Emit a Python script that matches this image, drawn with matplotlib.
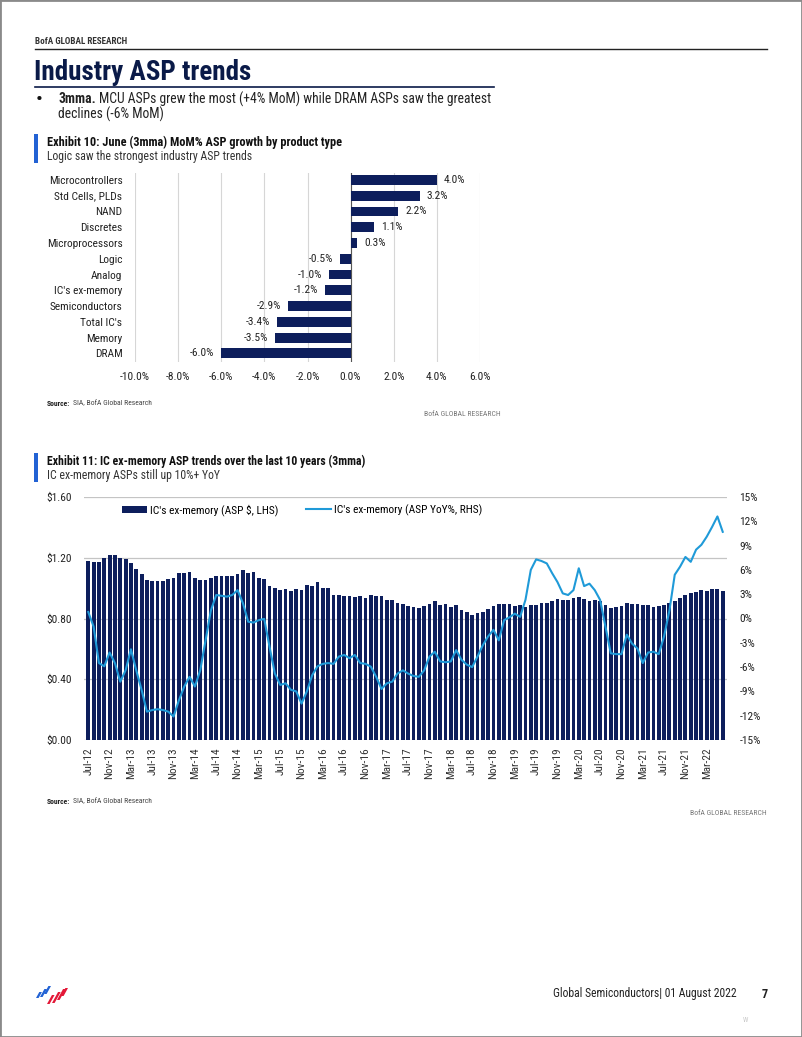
import numpy as np
import matplotlib
matplotlib.use("Agg")
import matplotlib.pyplot as plt
from matplotlib import font_manager as fm
from matplotlib.lines import Line2D
from matplotlib.patches import Rectangle, Polygon


# --- data -------------------------------------------------------------
categories = ['Microcontrollers', 'Std Cells, PLDs', 'NAND', 'Discretes',
              'Microprocessors', 'Logic', 'Analog', "IC's ex-memory",
              'Semiconductors', "Total IC's", 'Memory', 'DRAM']
mom_growth = [4.0, 3.2, 2.2, 1.1, 0.3, -0.5, -1.0, -1.2, -2.9, -3.4, -3.5, -6.0]

# monthly Jul-12 .. Jun-22, IC ex-memory ASP ($, 3mma)
asp = [1.18, 1.17, 1.17, 1.20, 1.22, 1.22, 1.20, 1.19, 1.165, 1.125, 1.09, 1.055,
       1.045, 1.045, 1.045, 1.06, 1.065, 1.10, 1.10, 1.105, 1.065, 1.055, 1.055, 1.065,
       1.08, 1.08, 1.08, 1.08, 1.09, 1.12, 1.10,
       1.105, 1.065, 1.06, 1.015, 1.00, 0.99, 0.995, 0.98, 0.995, 0.99, 1.02, 1.015,
       1.04, 1.00, 1.00, 0.955, 0.955, 0.945, 0.95, 0.94, 0.945, 0.935, 0.955, 0.945,
       0.95, 0.925, 0.925, 0.90,
       0.897, 0.883, 0.879, 0.872, 0.883, 0.897, 0.916, 0.89, 0.897, 0.879, 0.89, 0.853,
       0.846, 0.824, 0.839, 0.846, 0.864, 0.883, 0.897, 0.897, 0.897, 0.883, 0.89, 0.879,
       0.89, 0.89, 0.905, 0.905, 0.916, 0.929,
       0.923, 0.923, 0.934, 0.940, 0.929, 0.918, 0.923, 0.912, 0.890, 0.872, 0.879, 0.885,
       0.905, 0.897, 0.897, 0.890, 0.890, 0.879, 0.885, 0.890, 0.901, 0.918, 0.934, 0.956,
       0.971, 0.973, 0.989, 0.984, 0.993, 0.993, 0.984]

# same months, ASP YoY %
asp_yoy = [0.8, -1.0, -5.5, -5.9, -4.2, -5.5, -7.8, -6.4, -3.8, -6.4, -8.8, -11.5,
           -11.3, -11.2, -11.3, -11.5, -12.1, -10.1, -8.4, -7.2, -8.4, -6.4, -2.7, 1.0,
           2.9, 2.8, 2.7, 2.9, 3.5, 1.9, -0.4,
           -0.5, -0.2, -0.05, -3.5, -6.8, -8.2, -8.0, -8.8, -9.0, -10.5, -9.0, -7.0,
           -5.9, -5.6, -5.5, -5.6, -4.7, -4.5, -4.9, -4.5, -5.5, -5.6, -5.95, -7.2,
           -8.7, -8.0, -7.8, -6.8,
           -6.4, -6.8, -7.1, -7.2, -6.4, -4.7, -4.1, -5.3, -5.4, -5.3, -3.9, -5.1,
           -5.7, -6.0, -4.7, -3.3, -2.2, -1.4, -2.7, -0.2, 0.15, 0.6, 0.2, 2.3,
           6.0, 7.3, 7.1, 6.8, 5.6, 4.5,
           3.1, 2.9, 3.5, 6.2, 4.0, 4.3, 3.5, 2.3, -1.0, -4.3, -4.4, -4.4,
           -2.0, -3.1, -3.7, -5.5, -4.2, -4.1, -4.4, -2.2, 1.0, 5.4, 6.4, 7.6,
           7.0, 8.5, 9.1, 10.1, 11.3, 12.6, 10.7]

month_labels = ['Jul-12', 'Nov-12', 'Mar-13', 'Jul-13', 'Nov-13', 'Mar-14', 'Jul-14',
                'Nov-14', 'Mar-15', 'Jul-15', 'Nov-15', 'Mar-16', 'Jul-16', 'Nov-16',
                'Mar-17', 'Jul-17', 'Nov-17', 'Mar-18', 'Jul-18', 'Nov-18', 'Mar-19',
                'Jul-19', 'Nov-19', 'Mar-20', 'Jul-20', 'Nov-20', 'Mar-21', 'Jul-21',
                'Nov-21', 'Mar-22']
lhs_ticks = [0.0, 0.4, 0.8, 1.2, 1.6]
rhs_ticks = [-15, -12, -9, -6, -3, 0, 3, 6, 9, 12, 15]
mom_ticks = [-10, -8, -6, -4, -2, 0, 2, 4, 6]

# --- style ------------------------------------------------------------
NAVY = '#0d1e5c'
TITLE_NAVY = '#0a1a48'
LBLUE = '#1f9ad8'
ACCENT = '#2262d4'
RED = '#e31837'
TXT = '#222222'

avail = {f.name for f in fm.fontManager.ttflist}
FONT = next((n for n in ['Roboto Condensed', 'Liberation Sans Narrow',
                         'DejaVu Sans Condensed', 'Roboto', 'Liberation Sans']
             if n in avail), 'DejaVu Sans')
plt.rcParams['font.family'] = [FONT, 'DejaVu Sans']

W, H = 802, 1037
fig = plt.figure(figsize=(W / 100, H / 100), dpi=100)


def X(px):
    return px / W


def Y(py):
    return 1 - py / H


def ftext(x, y, s, **kw):
    kw.setdefault('va', 'center')
    kw.setdefault('color', TXT)
    return fig.text(X(x), Y(y), s, **kw)


def after(t, pad=0):
    # x pixel right after a drawn text
    r = fig.canvas.get_renderer()
    return t.get_window_extent(renderer=r).x1 + pad


# page frame + header
fig.add_artist(Rectangle((0, 0), 1, 1, transform=fig.transFigure, fill=False,
                         edgecolor='#8a8a8a', lw=2))
ftext(35, 41, 'BofA GLOBAL RESEARCH', fontsize=6.6, weight='bold', color='#333')
fig.add_artist(Line2D([X(35), X(767)], [Y(49)] * 2, color='#222', lw=1))
ftext(34, 72, 'Industry ASP trends', fontsize=19.5, weight='bold', color=TITLE_NAVY)
fig.add_artist(Line2D([X(35), X(494)], [Y(87)] * 2, color=TITLE_NAVY, lw=1.2))

ftext(36, 99, '\u2022', fontsize=15, color='#111')
t = ftext(58, 99, '3mma.', fontsize=9.8, weight='bold')
ftext(after(t, 3), 99, 'MCU ASPs grew the most (+4% MoM) while DRAM ASPs saw the greatest',
      fontsize=9.8)
ftext(58, 114, 'declines (-6% MoM)', fontsize=9.8)

# --- exhibit 10 -------------------------------------------------------
fig.add_artist(Rectangle((X(34), Y(163)), 4 / W, 29 / H, transform=fig.transFigure,
                         color=ACCENT, lw=0))
ftext(47, 142, 'Exhibit 10: June (3mma) MoM% ASP growth by product type',
      fontsize=8.8, weight='bold', color='#111')
ftext(47, 156, 'Logic saw the strongest industry ASP trends', fontsize=8.5, color='#333')

ax1 = fig.add_axes([X(135), Y(362), (480 - 135) / W, (362 - 172.7) / H])
pos = np.arange(len(categories))
ax1.barh(pos, mom_growth, height=0.63, color=NAVY, zorder=3)
for p, v in zip(pos, mom_growth):
    ax1.annotate(f'{v:.1f}%', (v, p), xytext=(5 if v > 0 else -5, 0),
                 textcoords='offset points', ha='left' if v > 0 else 'right',
                 va='center', fontsize=8.2, color=TXT)
ax1.set_xlim(-10, 6)
ax1.set_ylim(11.55, -0.46)
ax1.set_xticks(mom_ticks)
ax1.set_xticklabels([f'{v:.1f}%' for v in mom_ticks])
ax1.set_yticks(pos)
ax1.set_yticklabels(categories)
ax1.grid(axis='x', color='#d6d6d6', lw=0.8)
ax1.set_axisbelow(True)
ax1.axvline(0, color='#555', lw=0.8, zorder=2)
for s in ax1.spines.values():
    s.set_visible(False)
ax1.tick_params(axis='x', length=0, pad=7, labelsize=8.2, labelcolor=TXT)
ax1.tick_params(axis='y', length=0, pad=9, labelsize=8.2, labelcolor=TXT)

t = ftext(47, 403, 'Source:', fontsize=5.5, weight='bold')
ftext(after(t, 3), 403, 'SIA, BofA Global Research', fontsize=5.5, color='#444')
ftext(501, 414, 'BofA GLOBAL RESEARCH', fontsize=5.5, ha='right', color='#777')

# --- exhibit 11 -------------------------------------------------------
fig.add_artist(Rectangle((X(34), Y(482)), 4 / W, 29 / H, transform=fig.transFigure,
                         color=ACCENT, lw=0))
ftext(47, 461, 'Exhibit 11: IC ex-memory ASP trends over the last 10 years (3mma)',
      fontsize=8.5, weight='bold', color='#111')
ftext(47, 475, 'IC ex-memory ASPs still up 10%+ YoY', fontsize=8.5, color='#333')

ax2 = fig.add_axes([X(84), Y(740), (727 - 84) / W, (740 - 497) / H])
idx = np.arange(len(asp))
bars = ax2.bar(idx, asp, width=0.72, color=NAVY, zorder=2,
               label="IC's ex-memory (ASP $, LHS)")
ax2.set_xlim(-0.8, len(asp) - 0.2)
ax2.set_ylim(0, 1.6)
ax2.set_yticks(lhs_ticks)
ax2.set_yticklabels([f'${v:.2f}' for v in lhs_ticks])
ax2.set_xticks(idx[::4])
ax2.set_xticklabels(month_labels, rotation=90)
ax2.grid(axis='y', color='#c4c4c4', lw=0.9)
ax2.set_axisbelow(True)

ax3 = ax2.twinx()
line, = ax3.plot(idx, asp_yoy, color=LBLUE, lw=1.5,
                 label="IC's ex-memory (ASP YoY%, RHS)")
ax3.set_ylim(-15, 15)
ax3.set_yticks(rhs_ticks)
ax3.set_yticklabels([f'{v}%' for v in rhs_ticks])

for a in (ax2, ax3):
    for s in a.spines.values():
        s.set_visible(False)
    a.tick_params(length=0, labelsize=8.2, labelcolor=TXT)
ax2.tick_params(axis='y', pad=9)
ax2.tick_params(axis='x', pad=5, labelcolor='#333')
ax3.tick_params(axis='y', pad=9)

fig.legend([bars, line], [bars.get_label(), line.get_label()], loc='center',
           bbox_to_anchor=(X(302), Y(510)), ncol=2, frameon=False, fontsize=8.2,
           handlelength=2.2, handleheight=0.6, handletextpad=0.3, columnspacing=2.4)

t = ftext(47, 801, 'Source:', fontsize=5.5, weight='bold')
ftext(after(t, 3), 801, 'SIA, BofA Global Research', fontsize=5.5, color='#444')
ftext(767, 813, 'BofA GLOBAL RESEARCH', fontsize=5.5, ha='right', color='#777')

# --- footer -----------------------------------------------------------
# small flag logo: slanted stripes, blue upper-left, red lower-right
stripes = [(ACCENT, 36, 992, 6), (ACCENT, 40, 989, 8), (ACCENT, 44, 986, 8),
           (RED, 47, 995, 9), (RED, 52, 992, 11), (RED, 57, 989, 11), (RED, 61, 988, 8)]
for c, x0, y0, ln in stripes:
    pts = [(x0, y0 + ln), (x0 + 2.6, y0 + ln), (x0 + 2.6 + ln * 0.55, y0),
           (x0 + ln * 0.55, y0)]
    fig.add_artist(Polygon([(X(a), Y(b)) for a, b in pts], closed=True,
                           transform=fig.transFigure, color=c, lw=0))
ftext(737, 994, 'Global Semiconductors| 01 August 2022', fontsize=8.4, ha='right')
ftext(762, 994, '7', fontsize=8.8, weight='bold')
ftext(743, 1021, 'W', fontsize=5, color='#c8c8c8')

fig.savefig('out.png', dpi=100)
